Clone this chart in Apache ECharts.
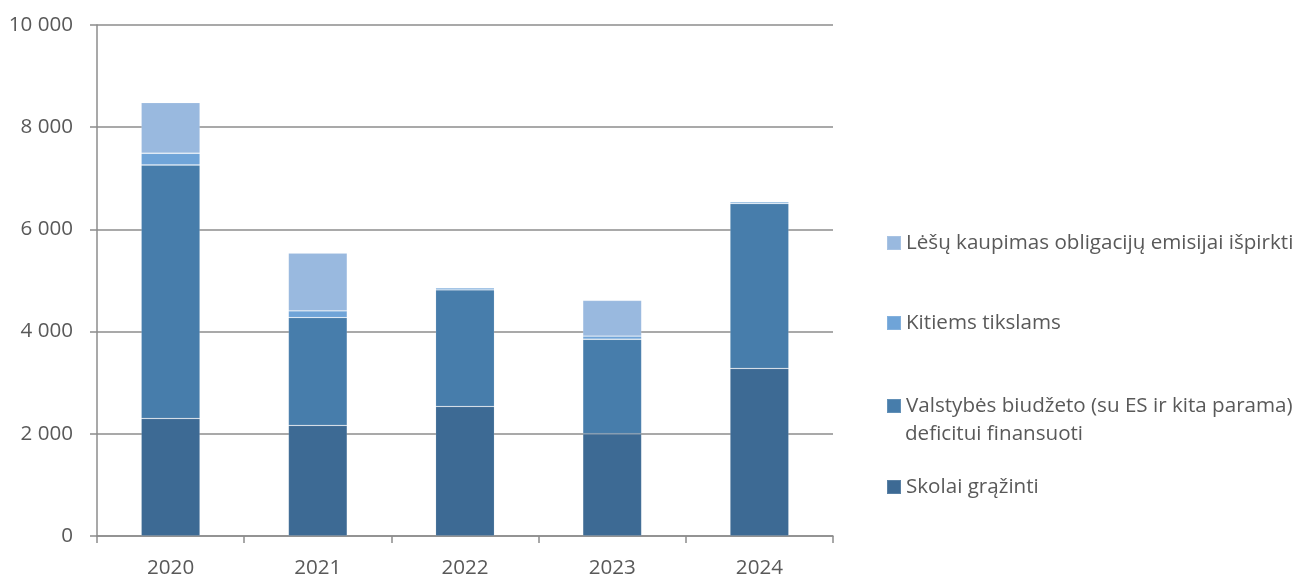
<!DOCTYPE html>
<html>
<head>
<meta charset="utf-8">
<script src="https://cdn.jsdelivr.net/npm/echarts@6/dist/echarts.min.js"></script>
<style>
html,body{margin:0;padding:0;background:#fff;}
#chart{width:1301px;height:579px;}
</style>
</head>
<body>
<div id="chart"></div>
<script>
const categories = ['2020', '2021', '2022', '2023', '2024'];
const skolai = [2300, 2165, 2535, 2000, 3280];
const valstybes = [4960, 2110, 2280, 1850, 3225];
const kitiems = [230, 130, 40, 60, 35];
const lesu = [990, 1130, 0, 700, 0];
const yTicks = [0, 2000, 4000, 6000, 8000, 10000];

const names = [
  'Skolai grąžinti',
  'Valstybės biudžeto (su ES ir kita parama) deficitui finansuoti',
  'Kitiems tikslams',
  'Lėšų kaupimas obligacijų emisijai išpirkti'
];
const nameLine1 = 'Valstybės biudžeto (su ES ir kita parama)';
const nameLine2 = 'deficitui finansuoti';
const colors = ['#3d6a94', '#477dab', '#6fa4d8', '#99b9df'];
const values = [skolai, valstybes, kitiems, lesu];

const FONT = 'Open Sans';
const TXT = '#595959';
const GRID = '#8c8c8c';
const FS = 20.6;

function fmt(v){ return String(v).replace(/\B(?=(\d{3})+(?!\d))/g, ' '); }

function legendAt(top, name, formatter) {
  const l = {
    orient: 'vertical', left: 886, top: top, padding: 0,
    itemWidth: 14, itemHeight: 14, itemGap: 0,
    icon: 'rect',
    textStyle: { fontFamily: FONT, fontSize: FS, color: TXT, lineHeight: 28 },
    data: [name]
  };
  if (formatter) l.formatter = formatter;
  return l;
}

const chart = echarts.init(document.getElementById('chart'), null, {renderer: 'canvas'});
chart.setOption({
  animation: false,
  backgroundColor: '#fff',
  grid: { left: 97, right: 468, top: 25, bottom: 39 },
  legend: [
    legendAt(243 - 14, names[3]),
    legendAt(323 - 14, names[2]),
    legendAt(406 - 14, names[1], () => nameLine1),
    legendAt(487 - 14, names[0])
  ],
  graphic: [{
    type: 'text', left: 905, top: 434 - 14,
    style: { text: nameLine2, fontFamily: FONT, fontSize: FS, fill: TXT, lineHeight: 28 }
  }],
  xAxis: {
    type: 'category', data: categories,
    axisLine: { show: true, lineStyle: { color: GRID, width: 1.5 } },
    axisTick: { show: true, length: 7, lineStyle: { color: GRID, width: 1.5 } },
    axisLabel: { fontFamily: FONT, fontSize: FS, color: TXT, margin: 22 }
  },
  yAxis: {
    type: 'value', min: yTicks[0], max: yTicks[yTicks.length - 1], interval: 2000,
    axisLine: { show: true, lineStyle: { color: GRID, width: 1.5 } },
    axisTick: { show: true, length: 7, lineStyle: { color: GRID, width: 1.5 } },
    splitLine: { show: true, lineStyle: { color: GRID, width: 1.5 } },
    axisLabel: { fontFamily: FONT, fontSize: FS, color: TXT, margin: 24, formatter: v => fmt(v) }
  },
  series: names.map((n, i) => ({
    name: n, type: 'bar', stack: 'total', barWidth: '40%',
    data: values[i],
    itemStyle: { color: colors[i], borderColor: 'rgba(255,255,255,0.15)', borderWidth: 0.8 }
  }))
});
</script>
</body>
</html>
